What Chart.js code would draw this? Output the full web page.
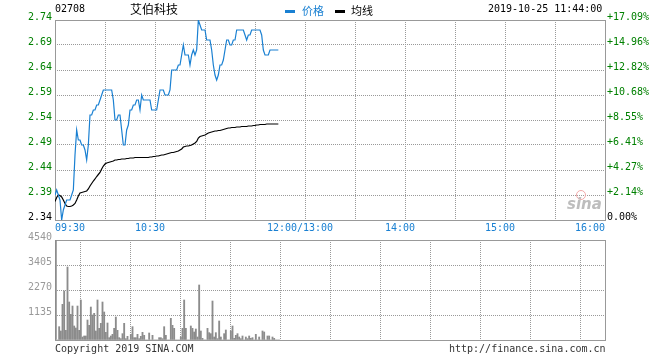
<!DOCTYPE html>
<html>
<head>
<meta charset="utf-8">
<script src="https://cdn.jsdelivr.net/npm/chart.js@4.4.0/dist/chart.umd.min.js"></script>
<style>
    body { margin: 0; background: #fff; }
    #wrap { position: relative; width: 660px; height: 360px; overflow: hidden; }
    canvas { position: absolute; left: 0; }
    .txt { position: absolute; white-space: nowrap; font-family: "DejaVu Sans Mono", monospace; font-size: 10px; line-height: 12px; }
    .cjk { font-family: "Noto Sans CJK SC", sans-serif; }
</style>
</head>
<body>
<div id="wrap">
    <canvas id="priceChart" width="660" height="236" style="top:0"></canvas>
    <canvas id="volChart" width="660" height="132" style="top:228px"></canvas>

    <div class="txt" style="left:55px; top:3px; color:#000;">02708</div>
    <div class="txt cjk" style="left:130px; top:1px; font-size:12px; line-height:16px; color:#000;">艾伯科技</div>
    <div style="position:absolute; left:285px; top:10px; width:10px; height:3px; background:#1a80d2;"></div>
    <div class="txt cjk" style="left:302px; top:2px; font-size:11px; line-height:16px; color:#1a80d2;">价格</div>
    <div style="position:absolute; left:335px; top:10px; width:10px; height:3px; background:#000;"></div>
    <div class="txt cjk" style="left:351px; top:2px; font-size:11px; line-height:16px; color:#000;">均线</div>
    <div class="txt" style="left:488px; top:3px; color:#000;">2019-10-25 11:44:00</div>

    <div style="position:absolute; left:576px; top:190px; width:8px; height:8px; border-radius:50%; border:1px solid #f0a8a8;"></div>
    <div style="position:absolute; left:567px; top:195px; font-family:'DejaVu Sans', sans-serif; font-style:italic; font-weight:bold; font-size:15px; color:#bdbdbd;">sina</div>

    <div class="txt" style="left:55px; top:343px; color:#333;">Copyright 2019 SINA.COM</div>
    <div class="txt" style="left:449px; top:343px; color:#333;">http://finance.sina.com.cn</div>
</div>

<script>
// minute data 09:30 - 11:44
const prices = [
    2.39, 2.40, 2.39, 2.38, 2.34, 2.36, 2.37, 2.38, 2.38, 2.38,
    2.39, 2.40, 2.47, 2.52, 2.50, 2.50, 2.49, 2.49, 2.48, 2.46,
    2.49, 2.55, 2.55, 2.56, 2.56, 2.57, 2.57, 2.58, 2.59, 2.60,
    2.60, 2.60, 2.60, 2.60, 2.60, 2.58, 2.54, 2.54, 2.55, 2.55,
    2.52, 2.49, 2.49, 2.52, 2.53, 2.56, 2.56, 2.57, 2.57, 2.58,
    2.58, 2.56, 2.59, 2.58, 2.58, 2.58, 2.58, 2.58, 2.56, 2.56,
    2.56, 2.56, 2.58, 2.60, 2.60, 2.60, 2.59, 2.59, 2.59, 2.60,
    2.64, 2.64, 2.64, 2.64, 2.65, 2.65, 2.67, 2.69, 2.67, 2.67,
    2.67, 2.65, 2.67, 2.68, 2.67, 2.68, 2.74, 2.73, 2.72, 2.72,
    2.72, 2.70, 2.70, 2.70, 2.68, 2.65, 2.63, 2.62, 2.63, 2.65,
    2.65, 2.66, 2.68, 2.70, 2.70, 2.69, 2.69, 2.70, 2.70, 2.72,
    2.72, 2.72, 2.72, 2.72, 2.71, 2.70, 2.71, 2.71, 2.72, 2.72,
    2.72, 2.72, 2.72, 2.72, 2.71, 2.68, 2.67, 2.67, 2.67, 2.68,
    2.68, 2.68, 2.68, 2.68, 2.68
];

const avgPrices = [
    2.377, 2.385, 2.390, 2.389, 2.386, 2.380, 2.373, 2.368, 2.367, 2.367,
    2.368, 2.370, 2.373, 2.380, 2.388, 2.394, 2.395, 2.396, 2.397, 2.398,
    2.402, 2.408, 2.413, 2.418, 2.422, 2.427, 2.431, 2.435, 2.442, 2.448,
    2.452, 2.454, 2.455, 2.456, 2.457, 2.458, 2.460, 2.460, 2.461, 2.461,
    2.462, 2.462, 2.462, 2.463, 2.463, 2.464, 2.464, 2.464, 2.465, 2.465,
    2.465, 2.465, 2.465, 2.465, 2.465, 2.465, 2.465, 2.466, 2.466, 2.467,
    2.467, 2.468, 2.468, 2.469, 2.470, 2.470, 2.471, 2.472, 2.473, 2.474,
    2.475, 2.475, 2.476, 2.477, 2.478, 2.480, 2.482, 2.486, 2.487, 2.488,
    2.488, 2.489, 2.490, 2.492, 2.494, 2.497, 2.504, 2.507, 2.508, 2.509,
    2.510, 2.512, 2.514, 2.515, 2.516, 2.517, 2.518, 2.518, 2.519, 2.519,
    2.520, 2.521, 2.522, 2.523, 2.524, 2.524, 2.525, 2.525, 2.525, 2.526,
    2.526, 2.526, 2.527, 2.527, 2.527, 2.527, 2.528, 2.528, 2.528, 2.529,
    2.529, 2.530, 2.530, 2.531, 2.531, 2.531, 2.531, 2.532, 2.532, 2.532,
    2.532, 2.532, 2.532, 2.532, 2.532
];

const volumes = [
    4540, 0, 605, 409, 1620, 2225, 439, 3314, 1725, 1165,
    1543, 636, 545, 1543, 439, 1816, 136, 182, 182, 908,
    666, 1497, 1135, 1210, 409, 1816, 530, 757, 1725, 1271,
    348, 772, 106, 182, 257, 530, 1044, 439, 106, 60,
    288, 757, 60, 167, 0, 257, 605, 106, 106, 257,
    60, 167, 348, 212, 0, 0, 318, 0, 212, 0,
    0, 0, 106, 106, 60, 605, 212, 0, 0, 984,
    666, 530, 0, 0, 0, 136, 530, 1816, 530, 0,
    0, 636, 530, 363, 500, 136, 2497, 409, 75, 0,
    0, 530, 333, 288, 1770, 136, 333, 60, 863, 136,
    0, 288, 454, 0, 0, 409, 636, 75, 212, 288,
    136, 60, 182, 0, 136, 60, 182, 75, 106, 0,
    257, 0, 136, 0, 409, 363, 0, 182, 182, 0,
    136, 75, 0, 0, 0
];

// tick labels
const priceLabels = ['2.34', '2.39', '2.44', '2.49', '2.54', '2.59', '2.64', '2.69', '2.74'];
const pctLabels = ['0.00%', '+2.14%', '+4.27%', '+6.41%', '+8.55%', '+10.68%', '+12.82%', '+14.96%', '+17.09%'];
const volLabels = ['', '1135', '2270', '3405', '4540'];
const timeTicks = [0, 60, 150, 210, 270, 330];
const timeLabels = ['09:30', '10:30', '12:00/13:00', '14:00', '15:00', '16:00'];

const monoFont = { family: 'DejaVu Sans Mono', size: 10 };
const gridColor = '#999999';
const gridDash = [1, 1];
const blue = '#1a80d2';

// solid frame round the plot area
const framePlugin = {
    id: 'frame',
    beforeDatasetsDraw(chart) {
        const a = chart.chartArea;
        const ctx = chart.ctx;
        ctx.save();
        ctx.strokeStyle = '#999';
        ctx.lineWidth = 1;
        ctx.setLineDash([]);
        ctx.strokeRect(Math.round(a.left) + 0.5, Math.round(a.top) + 0.5,
            Math.round(a.right - a.left), Math.round(a.bottom - a.top));
        ctx.restore();
    }
};

// time labels under the price area
const timeLabelPlugin = {
    id: 'timeLabels',
    afterDraw(chart) {
        const xs = chart.scales.x;
        const ctx = chart.ctx;
        ctx.save();
        ctx.font = '10px "DejaVu Sans Mono"';
        ctx.fillStyle = blue;
        ctx.textBaseline = 'middle';
        const y = chart.chartArea.bottom + 8;
        timeTicks.forEach((t, i) => {
            const x = xs.getPixelForValue(t);
            if (i === 0) {
                ctx.textAlign = 'left';
                ctx.fillText(timeLabels[i], x, y);
            } else if (i === timeTicks.length - 1) {
                ctx.textAlign = 'right';
                ctx.fillText(timeLabels[i], x, y);
            } else {
                ctx.textAlign = 'center';
                ctx.fillText(timeLabels[i], x - 5, y);
            }
        });
        ctx.restore();
    }
};

const xAxis = (h) => ({
    type: 'linear',
    min: 0,
    max: 330,
    ticks: { display: false, stepSize: 30, maxTicksLimit: 20 },
    grid: { color: gridColor, drawTicks: false },
    border: { display: false, dash: gridDash },
    afterFit: s => { s.height = h; }
});

new Chart(document.getElementById('priceChart'), {
    type: 'line',
    data: {
        datasets: [
            {
                label: '价格',
                data: prices.map((p, i) => ({ x: i, y: p })),
                borderColor: blue,
                borderWidth: 1.2,
                pointRadius: 0,
                tension: 0
            },
            {
                label: '均线',
                data: avgPrices.map((p, i) => ({ x: i, y: p })),
                borderColor: '#000',
                borderWidth: 1.2,
                pointRadius: 0,
                tension: 0
            }
        ]
    },
    options: {
        responsive: false,
        animation: false,
        events: [],
        layout: { padding: { top: 20 } },
        plugins: { legend: { display: false }, tooltip: { enabled: false } },
        scales: {
            x: xAxis(16),
            y: {
                position: 'left',
                min: 2.34,
                max: 2.74,
                ticks: {
                    stepSize: 0.05,
                    font: monoFont,
                    padding: 3,
                    labelOffset: -3,
                    callback: (v, i) => priceLabels[i],
                    color: ctx => ctx.index === 0 ? '#000' : '#008000'
                },
                grid: { color: gridColor, drawTicks: false },
                border: { display: false, dash: gridDash },
                afterFit: s => { s.width = 55; }
            },
            y2: {
                position: 'right',
                min: 2.34,
                max: 2.74,
                ticks: {
                    stepSize: 0.05,
                    font: monoFont,
                    padding: 2,
                    labelOffset: -3,
                    callback: (v, i) => pctLabels[i],
                    color: ctx => ctx.index === 0 ? '#000' : '#008000'
                },
                grid: { display: false, drawTicks: false },
                border: { display: false },
                afterFit: s => { s.width = 55; }
            }
        }
    },
    plugins: [framePlugin, timeLabelPlugin]
});

new Chart(document.getElementById('volChart'), {
    type: 'bar',
    data: {
        datasets: [{
            label: 'volume',
            data: volumes.map((v, i) => ({ x: i + 0.5, y: v })),
            backgroundColor: '#8c8c8c',
            barThickness: 1.2
        }]
    },
    options: {
        responsive: false,
        animation: false,
        events: [],
        layout: { padding: { top: 12, right: 55 } },
        plugins: { legend: { display: false }, tooltip: { enabled: false } },
        scales: {
            x: Object.assign(xAxis(20), { offset: false }),
            y: {
                position: 'left',
                min: 0,
                max: 4540,
                ticks: {
                    stepSize: 1135,
                    font: monoFont,
                    padding: 3,
                    labelOffset: -3,
                    color: '#999',
                    callback: (v, i) => volLabels[i]
                },
                grid: { color: gridColor, drawTicks: false },
                border: { display: false, dash: gridDash },
                afterFit: s => { s.width = 55; }
            }
        }
    },
    plugins: [framePlugin]
});
</script>
</body>
</html>
